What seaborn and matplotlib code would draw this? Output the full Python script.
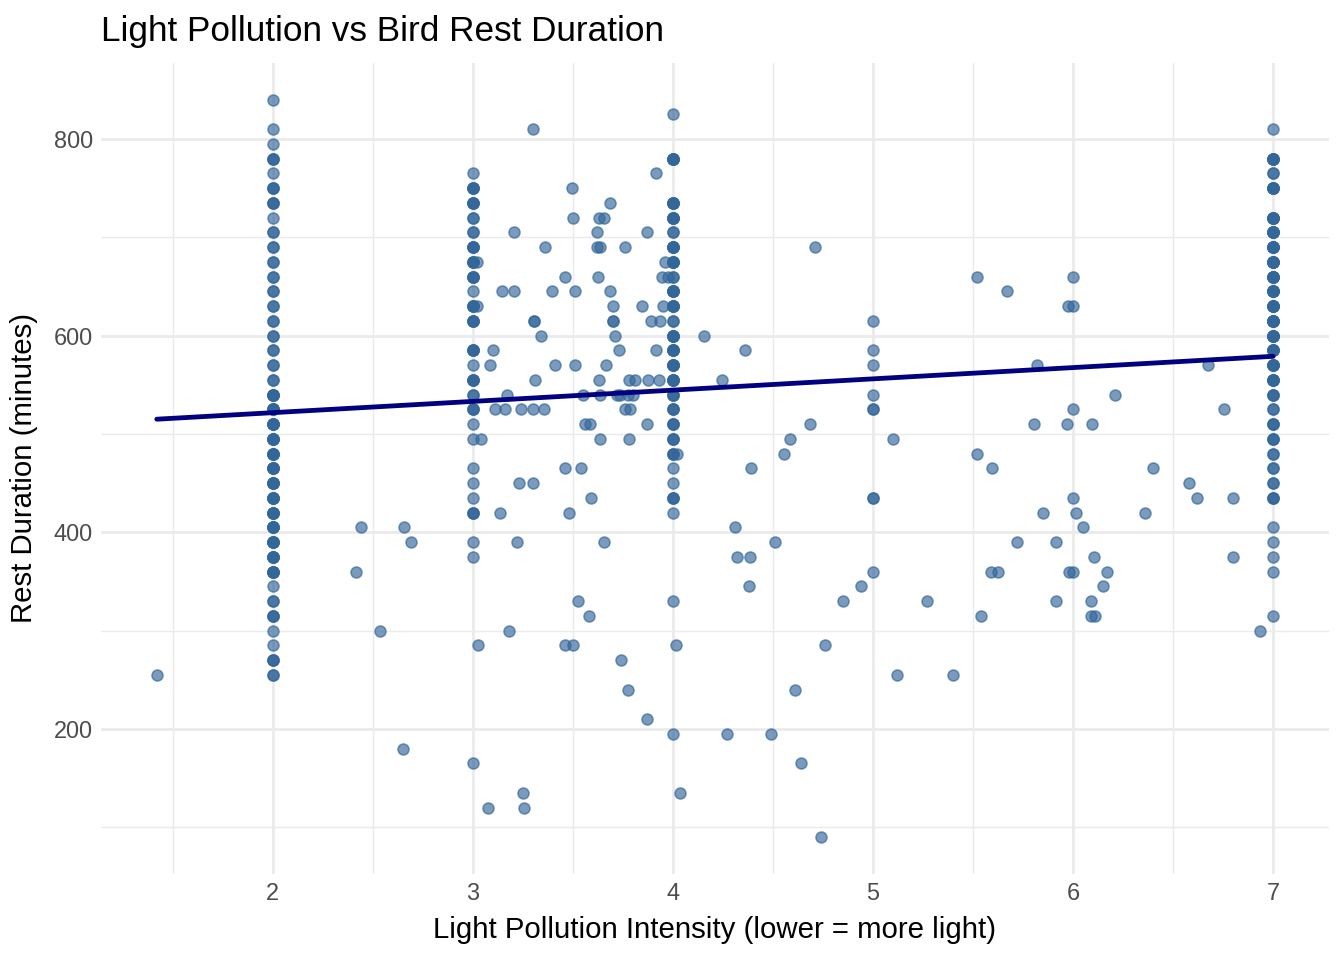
import numpy as np
import pandas as pd
import matplotlib
matplotlib.use("Agg")
import matplotlib.pyplot as plt
from matplotlib.ticker import MultipleLocator
import seaborn as sns

# rest durations stacked on the integer intensity levels, with how many birds share each value
col2_rest = [840, 810, 795, 780, 765, 750, 735, 720, 705, 690, 675, 660, 645, 630, 615, 600,
             585, 570, 555, 540, 525, 510, 495, 480, 465, 450, 435, 420, 405, 390, 375, 360,
             345, 330, 315, 300, 285, 270, 255]
col2_count = [1, 1, 1, 3, 1, 3, 3, 1, 2, 2, 2, 2, 2, 2, 2, 2,
              2, 2, 2, 5, 5, 5, 5, 5, 5, 5, 5, 5, 5, 5, 5, 5,
              1, 2, 3, 1, 1, 3, 2]

col3_rest = [765, 750, 735, 720, 705, 690, 675, 660, 645, 630, 615, 585, 570, 555, 540, 525,
             510, 495, 465, 450, 435, 420, 390, 375, 165]
col3_count = [1, 4, 4, 2, 2, 4, 4, 4, 1, 4, 4, 4, 1, 4, 2, 3,
              1, 1, 1, 1, 1, 3, 1, 1, 1]

col4_rest = [825, 780, 735, 720, 705, 690, 675, 660, 645, 630, 615, 600, 585, 570, 555, 540,
             525, 510, 495, 480, 465, 450, 435, 420, 330, 195]
col4_count = [1, 5, 5, 5, 2, 5, 5, 2, 5, 5, 2, 5, 5, 5, 5, 3,
              3, 3, 3, 3, 1, 1, 3, 1, 1, 1]

col5_rest = [615, 585, 570, 540, 525, 435, 360]
col5_count = [1, 1, 1, 1, 2, 2, 1]

col6_rest = [660, 630, 525, 435, 360]
col6_count = [1, 1, 1, 1, 1]

col7_rest = [810, 780, 765, 750, 720, 705, 690, 675, 660, 645, 630, 615, 600, 585, 570, 555,
             540, 525, 510, 495, 480, 465, 450, 435, 405, 390, 375, 360, 315]
col7_count = [1, 5, 2, 5, 6, 6, 6, 6, 6, 6, 6, 6, 6, 5, 5, 5,
              3, 2, 3, 3, 2, 2, 2, 3, 1, 1, 1, 1, 1]

# birds with non-integer intensity readings
other_light = [1.42, 2.415, 2.44, 2.535, 2.65, 2.655, 2.69,
               3.02, 3.02, 3.025, 3.04, 3.075, 3.085, 3.10, 3.11, 3.135, 3.145, 3.16, 3.17, 3.18,
               3.205, 3.205, 3.22, 3.23, 3.24, 3.25, 3.255, 3.30, 3.30, 3.30, 3.305, 3.305, 3.31,
               3.34, 3.355, 3.36, 3.395, 3.41, 3.46, 3.46, 3.46, 3.48, 3.495, 3.50, 3.50, 3.51,
               3.51, 3.525, 3.54, 3.55, 3.56, 3.58, 3.585, 3.59, 3.62, 3.62, 3.625, 3.63, 3.63,
               3.635, 3.635, 3.635, 3.655, 3.655, 3.665, 3.685, 3.685, 3.70, 3.70, 3.70, 3.71,
               3.72, 3.73, 3.735, 3.74, 3.76, 3.76, 3.775, 3.775, 3.78, 3.78, 3.785, 3.80, 3.81,
               3.845, 3.87, 3.87, 3.87, 3.875, 3.89, 3.915, 3.915, 3.93, 3.935, 3.945, 3.95,
               3.96, 3.975,
               4.015, 4.02, 4.035, 4.155, 4.245, 4.27, 4.31, 4.32, 4.36, 4.38, 4.385, 4.39,
               4.49, 4.51, 4.555, 4.585, 4.61, 4.64, 4.685, 4.71, 4.74, 4.76, 4.85, 4.94,
               5.10, 5.12, 5.27, 5.40, 5.52, 5.52, 5.54, 5.595, 5.59, 5.625, 5.67, 5.72, 5.805,
               5.82, 5.85, 5.915, 5.915, 5.97, 5.975, 5.98,
               6.015, 6.05, 6.09, 6.09, 6.095, 6.105, 6.11, 6.15, 6.17, 6.21, 6.36, 6.40, 6.58,
               6.62, 6.675, 6.755, 6.80, 6.80, 6.935]
other_rest = [255, 360, 405, 300, 180, 405, 390,
              675, 630, 285, 495, 120, 570, 585, 525, 420, 645, 525, 540, 300,
              705, 645, 390, 450, 525, 135, 120, 810, 525, 450, 615, 615, 555,
              600, 525, 690, 645, 570, 660, 465, 285, 420, 750, 720, 285, 645,
              570, 330, 465, 540, 510, 315, 510, 435, 705, 690, 660, 720, 555,
              690, 540, 495, 720, 390, 570, 735, 645, 630, 615, 615, 600,
              540, 585, 540, 270, 690, 525, 540, 240, 555, 495, 525, 540, 555,
              630, 705, 510, 210, 555, 615, 765, 585, 555, 615, 660, 630,
              675, 660,
              285, 480, 135, 600, 555, 195, 405, 375, 585, 345, 375, 465,
              195, 390, 480, 495, 240, 165, 510, 690, 90, 285, 330, 345,
              495, 255, 330, 255, 660, 480, 315, 465, 360, 360, 645, 390, 510,
              570, 420, 390, 330, 510, 630, 360,
              420, 405, 330, 315, 510, 375, 315, 345, 360, 540, 420, 465, 450,
              435, 570, 525, 435, 375, 300]

light = []
rest = []
for level, vals, counts in [(2, col2_rest, col2_count), (3, col3_rest, col3_count),
                            (4, col4_rest, col4_count), (5, col5_rest, col5_count),
                            (6, col6_rest, col6_count), (7, col7_rest, col7_count)]:
    for v, c in zip(vals, counts):
        light += [level] * c
        rest += [v] * c
light += other_light
rest += other_rest
df = pd.DataFrame({"light": light, "rest": rest})

sns.set_style("white")
plt.rcParams["font.family"] = ["Liberation Sans", "DejaVu Sans"]
plt.rcParams["text.color"] = "black"
plt.rcParams["axes.labelcolor"] = "black"

fig = plt.figure(figsize=(7, 5), dpi=192)
ax = fig.add_axes([0.0751, 0.0896, 0.9137, 0.845])

sns.scatterplot(data=df, x="light", y="rest", color="#336699", alpha=0.65,
                s=17, edgecolor="#336699", linewidth=0.6, ax=ax, zorder=3)
sns.regplot(data=df, x="light", y="rest", scatter=False, ci=None, color="#000080",
            line_kws={"linewidth": 1.8, "zorder": 4}, ax=ax)

ax.xaxis.set_major_locator(MultipleLocator(1))
ax.xaxis.set_minor_locator(MultipleLocator(0.5))
ax.yaxis.set_major_locator(MultipleLocator(200))
ax.yaxis.set_minor_locator(MultipleLocator(100))
ax.grid(True, which="major", color="#EBEBEB", linewidth=1.07)
ax.grid(True, which="minor", color="#EBEBEB", linewidth=0.53)
ax.set_axisbelow(True)
for s in ax.spines.values():
    s.set_visible(False)
ax.tick_params(which="both", length=0, labelsize=8.8, labelcolor="#4D4D4D", pad=3)

ax.set_xlabel("Light Pollution Intensity (lower = more light)", fontsize=11, labelpad=4)
ax.set_ylabel("Rest Duration (minutes)", fontsize=11, labelpad=6)
ax.set_title("Light Pollution vs Bird Rest Duration", loc="left", fontsize=13.2, pad=8)

fig.savefig("out.png", dpi=192)
